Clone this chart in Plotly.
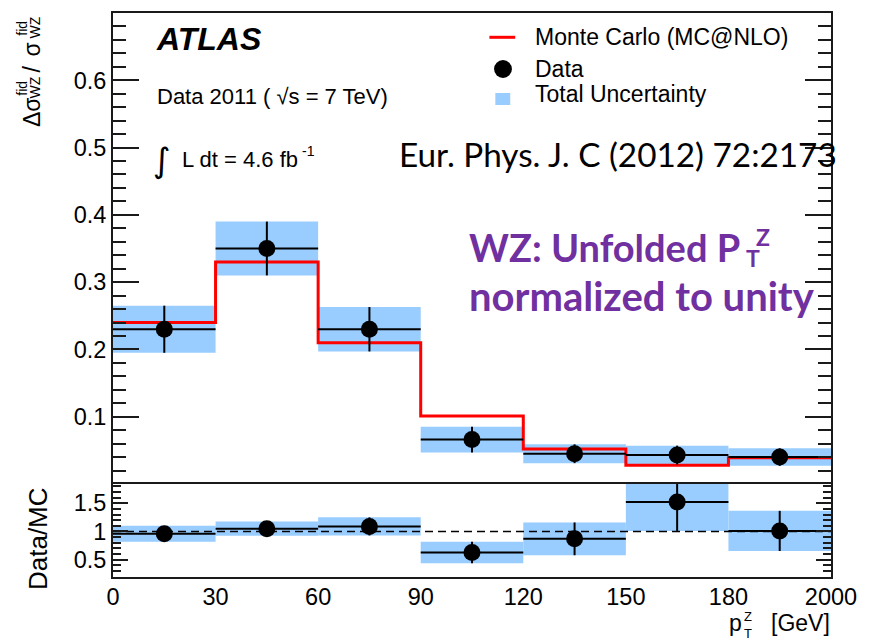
import plotly.graph_objects as go

# Bin edges of the unfolded pT(Z) distribution (equal-width display bins)
bin_labels = ["0", "30", "60", "90", "120", "150", "180", "2000"]

# Normalised fiducial cross section per bin
data_frac = [0.230, 0.350, 0.230, 0.066, 0.045, 0.043, 0.040]
unc_frac = [0.035, 0.040, 0.033, 0.019, 0.014, 0.014, 0.013]
mc_frac = [0.240, 0.330, 0.210, 0.101, 0.052, 0.028, 0.039]

# Data / MC ratio per bin
ratio = [0.96, 1.05, 1.09, 0.63, 0.87, 1.52, 1.01]
ratio_unc = [0.14, 0.125, 0.16, 0.19, 0.29, 0.51, 0.355]
unity = 1.0

main_tick_vals = [0.1, 0.2, 0.3, 0.4, 0.5, 0.6]
ratio_tick_vals = [0.5, 1.0, 1.5]
ratio_tick_text = ["0.5", "1", "1.5"]

W, H = 869, 641
L, R, T, B = 113, 836, 13, 577      # plot-area edges in pixels
SPLIT = 484                          # boundary between upper and ratio pad

HELV = "Liberation Sans, Arial, Helvetica, sans-serif"
CAL = "Lato, Open Sans, sans-serif"
BLUE = "#99CCFF"
FRAME = "#1a1a1a"

n_bins = len(data_frac)
centers = [i + 0.5 for i in range(n_bins)]
edges = list(range(n_bins + 1))


def px(x):
    return (x - L) / (R - L)


def py(y):
    return (B - y) / (B - T)


split_dom = py(SPLIT)

fig = go.Figure()

# ---- upper pad -------------------------------------------------------------
fig.add_trace(go.Bar(
    x=centers, y=[2 * u for u in unc_frac],
    base=[d - u for d, u in zip(data_frac, unc_frac)],
    width=1.0, marker=dict(color=BLUE, line=dict(width=0)),
    xaxis="x", yaxis="y", showlegend=False, hoverinfo="skip"))

fig.add_trace(go.Scatter(
    x=edges, y=mc_frac + [mc_frac[-1]], mode="lines",
    line=dict(color="#FF0000", width=3, shape="hv"),
    xaxis="x", yaxis="y", showlegend=False))

fig.add_trace(go.Scatter(
    x=centers, y=data_frac, mode="markers",
    marker=dict(color="black", size=17),
    error_x=dict(type="constant", value=0.5, width=0, thickness=2, color="black"),
    error_y=dict(type="data", array=unc_frac, width=0, thickness=2, color="black"),
    xaxis="x", yaxis="y", showlegend=False))

# ---- ratio pad -------------------------------------------------------------
fig.add_trace(go.Bar(
    x=centers, y=[2 * u for u in ratio_unc],
    base=[r - u for r, u in zip(ratio, ratio_unc)],
    width=1.0, marker=dict(color=BLUE, line=dict(width=0)),
    xaxis="x2", yaxis="y2", showlegend=False, hoverinfo="skip"))

fig.add_trace(go.Scatter(
    x=[edges[0], edges[-1]], y=[unity, unity], mode="lines",
    line=dict(color="black", width=1.3, dash="8px,5px"),
    xaxis="x2", yaxis="y2", showlegend=False, hoverinfo="skip"))

fig.add_trace(go.Scatter(
    x=centers, y=ratio, mode="markers",
    marker=dict(color="black", size=17),
    error_x=dict(type="constant", value=0.5, width=0, thickness=2, color="black"),
    error_y=dict(type="data", array=ratio_unc, width=0, thickness=2, color="black"),
    xaxis="x2", yaxis="y2", showlegend=False))

fig.update_layout(
    width=W, height=H,
    margin=dict(l=L, r=W - R, t=T, b=H - B, pad=0),
    paper_bgcolor="white", plot_bgcolor="white",
    barmode="overlay", showlegend=False,
    font=dict(family=HELV, color="black"),
    # upper pad x axis: only the top frame line (the shared boundary comes from the ratio pad)
    xaxis=dict(domain=[0, 1], anchor="y", range=[0, n_bins], matches="x2",
               side="top", showticklabels=False, ticks="",
               showline=True, linecolor=FRAME, linewidth=2, mirror=False,
               showgrid=False, zeroline=False),
    xaxis2=dict(domain=[0, 1], anchor="y2", range=[0, n_bins],
                tickmode="array", tickvals=edges, ticktext=bin_labels,
                ticks="", ticklabelstandoff=-2,
                tickfont=dict(size=23.5, family=HELV, color="black"),
                showline=True, linecolor=FRAME, linewidth=2, mirror=True,
                showgrid=False, zeroline=False),
    yaxis=dict(domain=[split_dom, 1], anchor="x", range=[0, 0.7],
               tickmode="array", tickvals=main_tick_vals,
               ticktext=[f"{v:.1f}" for v in main_tick_vals],
               ticks="inside", ticklen=26, tickwidth=1.6, tickcolor=FRAME,
               minor=dict(tickmode="linear", tick0=0, dtick=0.02, ticks="inside",
                          ticklen=13, tickwidth=1.6, tickcolor=FRAME),
               tickfont=dict(size=23.5, family=HELV, color="black"),
               showline=True, linecolor=FRAME, linewidth=2, mirror="ticks",
               showgrid=False, zeroline=False),
    yaxis2=dict(domain=[0, split_dom], anchor="x2", range=[0.195, 1.84],
                tickmode="array", tickvals=ratio_tick_vals, ticktext=ratio_tick_text,
                ticks="inside", ticklen=15, tickwidth=1.6, tickcolor=FRAME,
                minor=dict(tickmode="linear", tick0=0, dtick=0.1, ticks="inside",
                           ticklen=8, tickwidth=1.6, tickcolor=FRAME),
                tickfont=dict(size=23.5, family=HELV, color="black"),
                showline=True, linecolor=FRAME, linewidth=2, mirror="ticks",
                showgrid=False, zeroline=False),
)


def ann(text, x, y, size, xanchor="left", yanchor="middle", angle=0,
        family=HELV, color="black"):
    return dict(text=text, xref="paper", yref="paper", x=px(x), y=py(y),
                xanchor=xanchor, yanchor=yanchor, showarrow=False,
                textangle=angle, font=dict(size=size, family=family, color=color),
                borderpad=0)


annotations = [
    # experiment label and run conditions
    ann("<b><i>ATLAS</i></b>", 155, 38.5, 32),
    ann("Data 2011 ( √s = 7 TeV)", 156, 96.7, 22),
    ann("∫", 162, 160, 34, xanchor="center", family="DejaVu Sans"),
    ann("L dt = 4.6 fb", 181, 160, 22),
    ann("-1", 302, 151, 14),
    # legend labels
    ann("Monte Carlo (MC@NLO)", 537, 36.7, 23),
    ann("Data", 537, 69, 23),
    ann("Total Uncertainty", 537, 94.3, 23),
    # publication reference and description
    ann("Eur. Phys. J. C (2012) 72:2173", 400, 154, 33.3, family=CAL),
    ann("<b>WZ: Unfolded P</b>", 470, 246.5, 38, family=CAL, color="#7030A0"),
    ann("<b>T</b>", 757.5, 258, 23, xanchor="center", family=CAL, color="#7030A0"),
    ann("<b>Z</b>", 768, 236.5, 23, xanchor="center", family=CAL, color="#7030A0"),
    ann("<b>normalized to unity</b>", 470, 296, 40, family=CAL, color="#7030A0"),
    # upper y-axis title: Δσ^fid_WZ / σ^fid_WZ
    ann("Δσ", 31, 112.5, 23, xanchor="center", angle=-90),
    ann("fid", 21, 88, 14, xanchor="center", angle=-90),
    ann("WZ", 34, 88, 14, xanchor="center", angle=-90),
    ann("/", 31, 69, 23, xanchor="center", angle=-90),
    ann("σ", 31, 50, 23, xanchor="center", angle=-90),
    ann("fid", 21, 28, 14, xanchor="center", angle=-90),
    ann("WZ", 34, 28, 14, xanchor="center", angle=-90),
    # ratio y-axis title
    ann("Data/MC", 37.5, 539, 26, xanchor="center", angle=-90),
    # x-axis title: p_T^Z [GeV]
    ann("[GeV]", 836, 622.5, 23, xanchor="right"),
    ann("p", 747, 622.5, 23, xanchor="right"),
    ann("Z", 752, 616, 13, xanchor="center"),
    ann("T", 752, 633, 13, xanchor="center"),
]

# legend keys
shapes = [
    dict(type="line", xref="paper", yref="paper",
         x0=px(492), x1=px(518), y0=py(37.3), y1=py(37.3),
         line=dict(color="#FF0000", width=3)),
    dict(type="circle", xref="paper", yref="paper",
         x0=px(496.7), x1=px(514.7), y0=py(78), y1=py(60),
         fillcolor="black", line=dict(width=0)),
    dict(type="rect", xref="paper", yref="paper",
         x0=px(498), x1=px(513), y0=py(105), y1=py(93),
         fillcolor=BLUE, line=dict(width=0)),
]

fig.update_layout(annotations=annotations, shapes=shapes)

fig.write_html("out.html")
